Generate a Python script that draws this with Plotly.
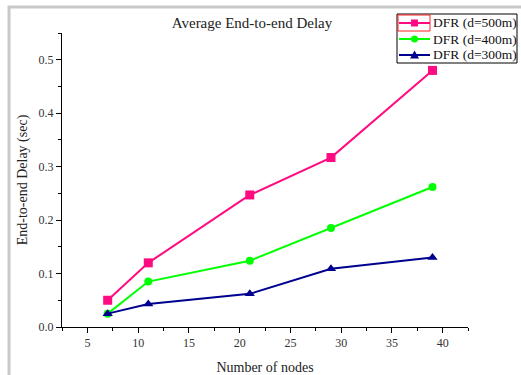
import plotly.graph_objects as go

nodes = [7, 11, 21, 29, 39]
delay_500 = [0.050, 0.120, 0.247, 0.317, 0.480]
delay_400 = [0.025, 0.085, 0.124, 0.185, 0.262]
delay_300 = [0.025, 0.043, 0.062, 0.109, 0.130]
names = ["DFR (d=500m)", "DFR (d=400m)", "DFR (d=300m)"]
colors = ["#ff0a80", "#00ff00", "#000090"]
symbols = ["square", "circle", "triangle-up"]

FONT = "Liberation Serif"

fig = go.Figure()
for ys, nm, c, s in zip([delay_500, delay_400, delay_300], names, colors, symbols):
    fig.add_trace(go.Scatter(
        x=nodes, y=ys, name=nm, mode="lines+markers", showlegend=False,
        line=dict(color=c, width=2),
        marker=dict(symbol=s, size=9 if s != "circle" else 8, color=c),
    ))

L, R, T, B = 62, 53, 33, 48
W, H = 521, 375
pw, ph = W - L - R, H - T - B

def px(x):
    return (x - L) / pw

def py(y):
    return (H - B - y) / ph

# legend box drawn in pixel positions (decoration only)
LEG_X0, LEG_X1, LEG_Y0, LEG_Y1 = 397, 517, 14, 63
ROW_Y = [23, 39, 55]
SYM_X0, SYM_X1, TXT_X = 399, 430, 431

shapes = [
    dict(type="line", xref="paper", yref="paper", x0=px(8), x1=px(W + 5),
         y0=py(7), y1=py(7), line=dict(color="#c8c8c8", width=3)),
    dict(type="line", xref="paper", yref="paper", x0=px(9), x1=px(9),
         y0=py(6), y1=py(H + 5), line=dict(color="#c8c8c8", width=3)),
    dict(type="rect", xref="paper", yref="paper", x0=px(LEG_X0), x1=px(LEG_X1),
         y0=py(LEG_Y0), y1=py(LEG_Y1), line=dict(color="black", width=1),
         fillcolor="white", layer="above"),
    dict(type="rect", xref="paper", yref="paper", x0=px(398), x1=px(430),
         y0=py(15), y1=py(31), line=dict(color="#ff2020", width=1), layer="above"),
]
annotations = []
for ry, nm, c, s in zip(ROW_Y, names, colors, symbols):
    shapes.append(dict(type="line", xref="paper", yref="paper", x0=px(SYM_X0), x1=px(SYM_X1),
                       y0=py(ry), y1=py(ry), line=dict(color=c, width=2), layer="above"))
    cx = (SYM_X0 + SYM_X1) / 2
    if s == "square":
        shapes.append(dict(type="rect", xref="paper", yref="paper", x0=px(cx - 3.5), x1=px(cx + 3.5),
                           y0=py(ry - 3.5), y1=py(ry + 3.5), line=dict(width=0), fillcolor=c, layer="above"))
    elif s == "circle":
        shapes.append(dict(type="circle", xref="paper", yref="paper", x0=px(cx - 3.5), x1=px(cx + 3.5),
                           y0=py(ry - 3.5), y1=py(ry + 3.5), line=dict(width=0), fillcolor=c, layer="above"))
    else:
        path = "M {} {} L {} {} L {} {} Z".format(px(cx - 4.5), py(ry + 3.5), px(cx + 4.5), py(ry + 3.5),
                                                   px(cx), py(ry - 4.5))
        shapes.append(dict(type="path", xref="paper", yref="paper", path=path,
                           line=dict(width=0), fillcolor=c, layer="above"))
    annotations.append(dict(text=nm, xref="paper", yref="paper", x=px(TXT_X), y=py(ry),
                            xanchor="left", yanchor="middle", showarrow=False,
                            font=dict(family=FONT, size=13.5, color="#111")))

fig.update_layout(
    width=W, height=H,
    margin=dict(l=L, r=R, t=T, b=B, autoexpand=False),
    paper_bgcolor="white", plot_bgcolor="white",
    font=dict(family=FONT, size=12, color="#222"),
    title=dict(text="Average End-to-end Delay", x=252 / W, xanchor="center",
               y=1 - 23 / H, yanchor="middle", xref="container", yref="container",
               font=dict(family=FONT, size=15, color="#222")),
    showlegend=False,
    xaxis=dict(range=[2.5, 42.5], tickmode="linear", tick0=5, dtick=5, automargin=False,
               showgrid=False, zeroline=False, showline=True, linecolor="black",
               linewidth=1, ticks="outside", ticklen=5, tickcolor="black",
               tickfont=dict(family=FONT, size=12, color="#333"),
               minor=dict(ticks="outside", ticklen=3, dtick=2.5, tick0=2.5, tickcolor="black"),
               title=dict(text="Number of nodes", font=dict(family=FONT, size=14, color="#222"),
                          standoff=18)),
    yaxis=dict(range=[0, 0.55], tickmode="linear", tick0=0, dtick=0.1, automargin=False,
               tickformat=".1f", showgrid=False, zeroline=False, showline=True,
               linecolor="black", linewidth=1, ticks="outside", ticklen=5, tickcolor="black",
               tickfont=dict(family=FONT, size=12, color="#333"),
               minor=dict(ticks="outside", ticklen=3, dtick=0.05, tick0=0, tickcolor="black"),
               title=dict(text="End-to-end Delay (sec)", font=dict(family=FONT, size=14, color="#222"),
                          standoff=7)),
    shapes=shapes,
    annotations=annotations,
)

fig.write_html("out.html", config={"displayModeBar": False},
               post_script="document.body.style.margin='0';document.body.style.overflow='hidden';")
